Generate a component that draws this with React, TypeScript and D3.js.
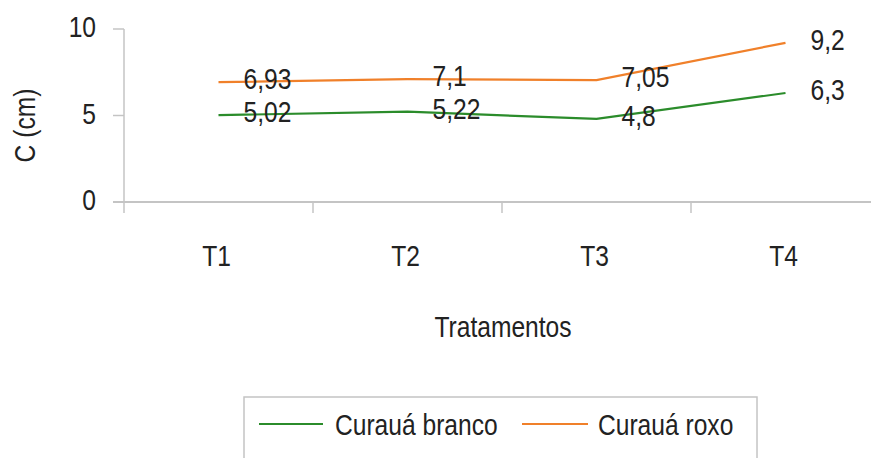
import React from "react";
import * as d3 from "d3";

const categories = ["T1", "T2", "T3", "T4"];
const branco = [5.02, 5.22, 4.8, 6.3];
const roxo = [6.93, 7.1, 7.05, 9.2];
const brancoLabels = ["5,02", "5,22", "4,8", "6,3"];
const roxoLabels = ["6,93", "7,1", "7,05", "9,2"];
const yTicks = [0, 5, 10];
const seriesNames = ["Curauá branco", "Curauá roxo"];

const W = 871;
const H = 458;
const FONT = "'Liberation Sans', Arial, sans-serif";
const FS = 30;
const NARROW = 0.82;
const GREEN = "#2b8c2b";
const ORANGE = "#f0802a";
const AXIS = "#c4c4c4";
const INK = "#222";

// Condensed text: regular sans squeezed horizontally around its anchor point
function NText({
  x,
  y,
  anchor = "start",
  rotate = 0,
  children,
}: {
  x: number;
  y: number;
  anchor?: "start" | "middle" | "end";
  rotate?: number;
  children: React.ReactNode;
}) {
  return (
    <text
      transform={`translate(${x},${y}) rotate(${rotate}) scale(${NARROW},1)`}
      textAnchor={anchor}
      fontSize={FS}
      fill={INK}
    >
      {children}
    </text>
  );
}

export default function App() {
  const x = d3.scaleBand<string>().domain(categories).range([124, 880]);
  const y = d3.scaleLinear().domain([0, 10]).range([202, 29]);
  const cx = (c: string) => (x(c) as number) + x.bandwidth() / 2;

  const line = d3
    .line<number>()
    .x((_, i) => cx(categories[i]))
    .y((v) => y(v));

  const series = [
    { values: branco, labels: brancoLabels, color: GREEN },
    { values: roxo, labels: roxoLabels, color: ORANGE },
  ];

  const boundaries = categories.map((c) => (x(c) as number) + x.bandwidth());

  return (
    <svg
      width={W}
      height={H}
      style={{ position: "absolute", left: 0, top: 0, background: "#fff" }}
      fontFamily={FONT}
    >
      {/* value axis */}
      <line x1={124} x2={124} y1={y(10)} y2={213} stroke={AXIS} strokeWidth={1.5} />
      {yTicks.map((t) => (
        <g key={t}>
          <line x1={113} x2={124} y1={y(t)} y2={y(t)} stroke={AXIS} strokeWidth={1.5} />
          <NText x={96} y={y(t) + 8} anchor="end">
            {t}
          </NText>
        </g>
      ))}
      <NText x={35} y={(y(0) + y(10)) / 2 + 10} anchor="middle" rotate={-90}>
        C (cm)
      </NText>

      {/* category axis */}
      <line x1={113} x2={W} y1={y(0)} y2={y(0)} stroke={AXIS} strokeWidth={2} />
      {boundaries.map((b, i) => (
        <line key={i} x1={b} x2={b} y1={y(0)} y2={213} stroke={AXIS} strokeWidth={1.5} />
      ))}
      {categories.map((c) => (
        <NText key={c} x={cx(c) - 2} y={266} anchor="middle">
          {c}
        </NText>
      ))}
      <NText x={503} y={337} anchor="middle">
        Tratamentos
      </NText>

      {/* series lines */}
      {series.map((s, k) => (
        <path key={k} d={line(s.values) as string} fill="none" stroke={s.color} strokeWidth={2.2} />
      ))}
      {/* data labels */}
      {series.map((s, k) =>
        s.values.map((v, i) => (
          <NText key={`${k}-${i}`} x={cx(categories[i]) + 25} y={y(v) + 7}>
            {s.labels[i]}
          </NText>
        ))
      )}

      {/* legend */}
      <rect x={244} y={397} width={513} height={80} fill="#fff" stroke={AXIS} strokeWidth={1.5} />
      <line x1={259} x2={323} y1={424} y2={424} stroke={GREEN} strokeWidth={2.2} />
      <NText x={335} y={435}>{seriesNames[0]}</NText>
      <line x1={522} x2={588} y1={424} y2={424} stroke={ORANGE} strokeWidth={2.2} />
      <NText x={598} y={435}>{seriesNames[1]}</NText>
    </svg>
  );
}
